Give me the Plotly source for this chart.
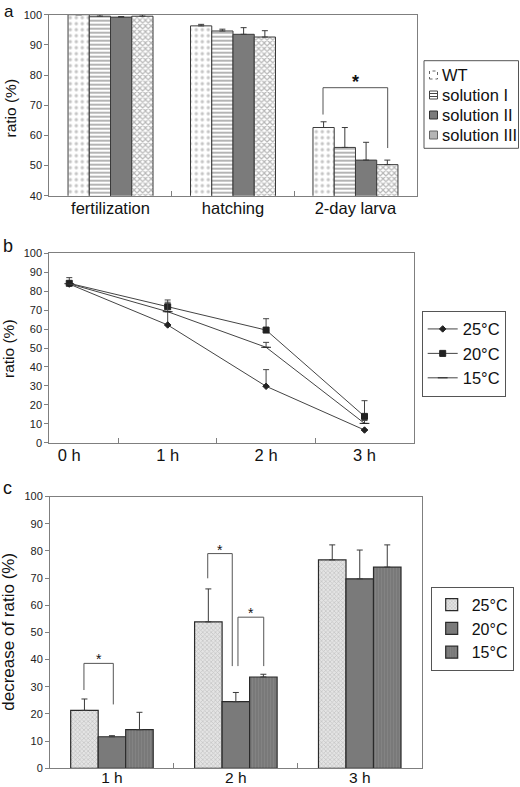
import plotly.graph_objects as go

# ---------------- data ----------------
stages = ["fertilization", "hatching", "2-day larva"]
groups_a = ["WT", "solution I", "solution II", "solution III"]
vals_a = {
    "WT": [100.0, 96.3, 62.6],
    "solution I": [99.5, 94.6, 56.0],
    "solution II": [99.2, 93.5, 51.8],
    "solution III": [99.5, 92.6, 50.3],
}
err_a = {
    "WT": [0.0, 0.5, 1.9],
    "solution I": [0.5, 0.6, 6.6],
    "solution II": [0.2, 2.2, 5.9],
    "solution III": [0.5, 2.1, 1.5],
}

hours_b = ["0 h", "1 h", "2 h", "3 h"]
temps = ["25°C", "20°C", "15°C"]
vals_b = {
    "25°C": [83.8, 62.2, 29.8, 6.7],
    "20°C": [84.2, 71.8, 59.5, 13.9],
    "15°C": [84.0, 69.2, 50.4, 10.2],
}
err_b = {
    "25°C": [0.0, 7.0, 8.8, 0.0],
    "20°C": [3.0, 3.6, 6.0, 8.3],
    "15°C": [0.0, 5.0, 2.6, 1.5],
}

hours_c = ["1 h", "2 h", "3 h"]
vals_c = {
    "25°C": [21.3, 53.9, 76.7],
    "20°C": [11.6, 24.5, 69.7],
    "15°C": [14.2, 33.6, 74.0],
}
err_c = {
    "25°C": [4.2, 12.1, 5.5],
    "20°C": [0.4, 3.4, 10.6],
    "15°C": [6.4, 1.0, 8.2],
}

W, H = 520, 787
FONT = "Liberation Sans, Arial, sans-serif"
AX = "#7f7f7f"
DARK = "#3a3a3a"


def px_x(p):
    return p / W


def px_y(p):
    return 1 - p / H


fig = go.Figure()

# ---------------- panel a ----------------
styles_a = {
    "WT": dict(color="white", pattern=dict(shape=".", fgcolor="#8c8c8c", bgcolor="white", size=6, solidity=0.25)),
    "solution I": dict(color="white", pattern=dict(shape="-", fgcolor="#6a6a6a", bgcolor="white", size=4, solidity=0.5)),
    "solution II": dict(color="#7b7b7b"),
    "solution III": dict(color="white", pattern=dict(shape="x", fgcolor="#6f6f6f", bgcolor="white", size=4, solidity=0.5)),
}
wa = 0.1735
for i, g in enumerate(groups_a):
    m = dict(styles_a[g])
    m["line"] = dict(color=DARK, width=1)
    fig.add_trace(go.Bar(
        x=[0, 1, 2], y=vals_a[g], width=wa, offset=(i - 2) * wa,
        marker=m, name=g, showlegend=False,
        error_y=dict(type="data", array=err_a[g], arrayminus=[0] * 3, symmetric=False,
                     color=DARK, thickness=1, width=3),
        xaxis="x", yaxis="y",
    ))

# ---------------- panel b ----------------
sym_b = {"25°C": ("diamond", 5), "20°C": ("square", 6), "15°C": ("line-ew", 7)}
for t in temps:
    s, sz = sym_b[t]
    fig.add_trace(go.Scatter(
        x=[0, 1, 2, 3], y=vals_b[t], mode="lines+markers", name=t, legend="legend2",
        line=dict(color="#444444", width=1),
        marker=dict(symbol=s, size=sz, color="#222222", line=dict(color="#222222", width=1)),
        error_y=dict(type="data", array=err_b[t], arrayminus=[0] * 4, symmetric=False,
                     color="#444444", thickness=1, width=3),
        xaxis="x2", yaxis="y2",
    ))

# ---------------- panel c ----------------
styles_c = {
    "25°C": dict(color="#d8d8d8", pattern=dict(shape="x", fgcolor="#a0a0a0", bgcolor="#e4e4e4", size=3, solidity=0.4)),
    "20°C": dict(color="#7a7a7a"),
    "15°C": dict(color="#7d7d7d", pattern=dict(shape="|", fgcolor="#8e8e8e", bgcolor="#787878", size=3, solidity=0.4)),
}
wc = 0.222
for i, t in enumerate(temps):
    m = dict(styles_c[t])
    m["line"] = dict(color="#2a2a2a", width=1.2)
    fig.add_trace(go.Bar(
        x=[0, 1, 2], y=vals_c[t], width=wc, offset=(i - 1.5) * wc,
        marker=m, name=t, legend="legend3", legendgroup=t,
        error_y=dict(type="data", array=err_c[t], arrayminus=[0] * 3, symmetric=False,
                     color=DARK, thickness=1, width=3),
        xaxis="x3", yaxis="y3",
    ))

# ---------------- axes ----------------
common_y = dict(showgrid=False, zeroline=False, showline=True, linecolor=AX, linewidth=1,
                mirror=True, ticks="outside", ticklen=4, tickcolor=AX,
                tickfont=dict(family=FONT, size=11, color="#222"))
common_x = dict(showgrid=False, zeroline=False, showline=True, linecolor=AX, linewidth=1,
                mirror=True, ticks="", ticklabelstandoff=-3,
                tickfont=dict(family=FONT, size=16.5, color="#111"))

fig.update_layout(
    xaxis=dict(common_x, domain=[px_x(49.3), px_x(416.7)], range=[-0.5, 2.5],
               tickvals=[0, 1, 2], ticktext=stages, anchor="y",
               minor=dict(tickvals=[0.5, 1.5], ticks="inside", ticklen=5, tickcolor=AX)),
    yaxis=dict(common_y, domain=[px_y(195.7), px_y(14.7)], range=[40, 100],
               tickvals=list(range(40, 101, 10)), anchor="x"),
    xaxis2=dict(common_x, domain=[px_x(49.3), px_x(414)], range=[-0.203, 3.503],
                tickvals=[0, 1, 2, 3], ticktext=hours_b, anchor="y2",
                minor=dict(tickvals=[0.5, 1.5, 2.5], ticks="inside", ticklen=5, tickcolor=AX)),
    yaxis2=dict(common_y, domain=[px_y(442.7), px_y(253.4)], range=[0, 100],
                tickvals=list(range(0, 101, 10)), anchor="x2"),
    xaxis3=dict(common_x, domain=[px_x(50), px_x(421.7)], range=[-0.5, 2.5],
                tickvals=[0, 1, 2], ticktext=hours_c, anchor="y3", ticklabelstandoff=-5,
                tickfont=dict(family=FONT, size=15.5, color="#111"),
                minor=dict(tickvals=[0.5, 1.5], ticks="inside", ticklen=5, tickcolor=AX)),
    yaxis3=dict(common_y, domain=[px_y(768.3), px_y(496.5)], range=[0, 100],
                tickvals=list(range(0, 101, 10)), anchor="x3"),
    barmode="overlay",
)

# ---------------- legends (b, c native) ----------------
leg_common = dict(bgcolor="white", bordercolor="#555", borderwidth=1,
                  xanchor="left", yanchor="top", traceorder="normal")
fig.update_layout(
    legend2=dict(leg_common, x=px_x(421.7), y=px_y(310.7), font=dict(family=FONT, size=16.5, color="#111")),
    legend3=dict(leg_common, x=px_x(430.7), y=px_y(586.7), font=dict(family=FONT, size=16, color="#111"),
                 tracegroupgap=9),
)

# ---------------- legend a (compact, drawn) ----------------
fig.add_shape(type="rect", xref="paper", yref="paper",
              x0=px_x(424), x1=px_x(518.5), y0=px_y(148.3), y1=px_y(60.7),
              line=dict(color="#555", width=1), fillcolor="white")
leg_a_y = [75, 95, 115, 135]
sw_style = {
    "WT": dict(fillcolor="white", line=dict(color="#666", width=1, dash="dot")),
    "solution I": dict(fillcolor="white", line=dict(color="#444", width=1)),
    "solution II": dict(fillcolor="#7b7b7b", line=dict(color="#333", width=1)),
    "solution III": dict(fillcolor="#b5b5b5", line=dict(color="#666", width=1)),
}
for g, yc in zip(groups_a, leg_a_y):
    fig.add_shape(type="rect", xref="paper", yref="paper",
                  x0=px_x(429.5), x1=px_x(437.5), y0=px_y(yc + 4), y1=px_y(yc - 4),
                  **sw_style[g])
    if g == "solution I":
        for dy in (-1.5, 1.5):
            fig.add_shape(type="line", xref="paper", yref="paper",
                          x0=px_x(429.5), x1=px_x(437.5), y0=px_y(yc + dy), y1=px_y(yc + dy),
                          line=dict(color="#444", width=1))
    fig.add_annotation(x=px_x(439.5), y=px_y(yc), xref="paper", yref="paper", text=g,
                       showarrow=False, xanchor="left", yanchor="middle",
                       font=dict(family=FONT, size=16.5, color="#111"))

# ---------------- brackets & stars ----------------
def bracket(xr, yr, x0, y0, x1, y1, ytop):
    fig.add_shape(type="path", xref=xr, yref=yr,
                  path=f"M {x0} {y0} L {x0} {ytop} L {x1} {ytop} L {x1} {y1}",
                  line=dict(color="#555", width=1))


bracket("x", "y", 1.735, 66.9, 2.263, 55.8, 75.8)
fig.add_annotation(x=2.0, y=75.8, xref="x", yref="y", text="<b>*</b>", showarrow=False,
                   yanchor="bottom", yshift=-6, font=dict(family=FONT, size=18, color="#111"))

bracket("x3", "y3", -0.226, 28.8, 0.011, 23.5, 38.6)
fig.add_annotation(x=-0.108, y=38.6, xref="x3", yref="y3", text="*", showarrow=False,
                   yanchor="bottom", yshift=-6, font=dict(family=FONT, size=14, color="#111"))
bracket("x3", "y3", 0.773, 69.9, 0.971, 37.6, 79.0)
fig.add_annotation(x=0.872, y=79.0, xref="x3", yref="y3", text="*", showarrow=False,
                   yanchor="bottom", yshift=-6, font=dict(family=FONT, size=14, color="#111"))
bracket("x3", "y3", 1.017, 37.6, 1.225, 37.6, 55.6)
fig.add_annotation(x=1.121, y=55.6, xref="x3", yref="y3", text="*", showarrow=False,
                   yanchor="bottom", yshift=-6, font=dict(family=FONT, size=14, color="#111"))

# ---------------- titles & panel labels ----------------
def ptext(x, y, text, size, angle=0, yanchor="middle"):
    fig.add_annotation(x=px_x(x), y=px_y(y), xref="paper", yref="paper", text=text,
                       showarrow=False, textangle=angle, xanchor="center", yanchor=yanchor,
                       font=dict(family=FONT, size=size, color="#111"))


ptext(10, 108.5, "ratio (%)", 15.5, -90)
ptext(9, 349, "ratio (%)", 15.5, -90)
ptext(9, 631.7, "decrease of ratio (%)", 17, -90)
ptext(8.5, 0, "a", 17, yanchor="top")
ptext(8, 246.5, "b", 18)
ptext(7.5, 488, "c", 18)

fig.update_layout(width=W, height=H, margin=dict(l=0, r=0, t=0, b=0, autoexpand=False),
                  paper_bgcolor="white", plot_bgcolor="white", showlegend=True)

fig.write_html("out.html", config={"displayModeBar": False},
               post_script="document.body.style.margin='0';document.body.style.overflow='hidden';")
